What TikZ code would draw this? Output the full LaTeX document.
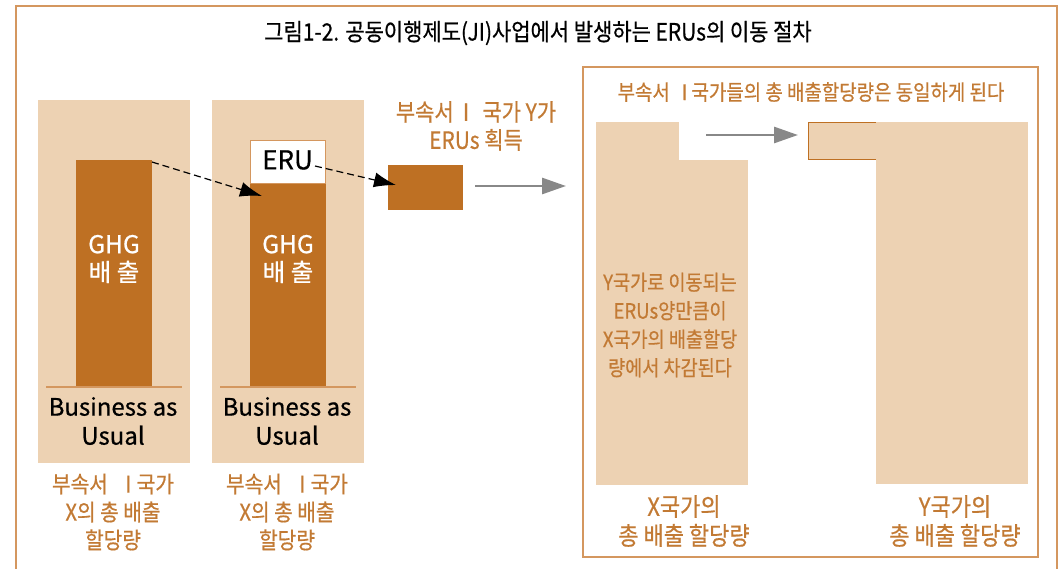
\documentclass[tikz,border=0pt]{standalone}
\usepackage{fontspec}
\setmainfont{Noto Sans CJK KR}[FakeStretch=0.88, FakeBold=0.6]
\newfontfamily\latinf{Noto Sans CJK KR}[FakeBold=0.6]
\usetikzlibrary{arrows.meta}
\definecolor{tanc}{HTML}{EDD2B3}
\definecolor{rustc}{HTML}{BE7023}
\definecolor{ortext}{HTML}{C27A34}
\definecolor{framec}{HTML}{D4975F}
\definecolor{grayarr}{HTML}{888888}
\begin{document}
\begin{tikzpicture}[x=1pt,y=-1pt,
  blk/.style={inner sep=0pt, outer sep=0pt, anchor=north west},
  tanblk/.style={blk, fill=tanc},
  rustblk/.style={blk, fill=rustc},
  lbl/.style={text=ortext, font=\fontsize{23}{28}\selectfont, align=center, inner sep=0pt},
  bau/.style={text=black, font=\latinf\fontsize{24}{29}\selectfont, align=center, inner sep=0pt},
  ghg/.style={text=white, font=\latinf\fontsize{24.5}{28}\selectfont, align=center, inner sep=0pt},
  baseline/.style={draw=framec, line width=1.2pt},
  dasharrow/.style={black, dashed, dash pattern=on 7pt off 4pt, line width=1.2pt, -{Latex[length=22pt,width=15pt]}},
  grayarrow/.style={grayarr, line width=2.8pt, -{Triangle[length=24pt,width=16pt]}}
]
\useasboundingbox (0,0) rectangle (1063,568);
% outer frame
\draw[framec, line width=1.6pt] (16,575) -- (16,6) -- (1057,6) -- (1057,575);
% title
\node[inner sep=0pt, font=\fontsize{23.8}{26}\selectfont] (title) at (538,33) {그림1-2. 공동이행제도(JI)사업에서 발생하는 ERUs의 이동 절차};

% panel 1
\node[tanblk, minimum width=152pt, minimum height=363pt] (p1) at (38,100) {};
\node[rustblk, minimum width=76pt, minimum height=227pt] (bar1) at (76,160) {};
\draw[baseline] (46,387) -- (182,387);
\node[ghg] (ghg1) at (114,259) {GHG\\배 출};
\node[bau] (bau1) at (113,421) {Business as\\Usual};
\node[lbl] (l1) at (113,512) {부속서\kern0.45emⅠ\kern-0.08em국가\\X의 총 배출\\할당량};

% panel 2
\node[tanblk, minimum width=152pt, minimum height=363pt] (p2) at (212,100) {};
\node[rustblk, minimum width=76pt, minimum height=227pt] (bar2) at (250,160) {};
\draw[baseline] (220,387) -- (356,387);
\node[blk, fill=white, draw=framec, line width=1pt, minimum width=75pt, minimum height=43pt] (eru) at (250,140) {};
\node[inner sep=0pt, font=\latinf\fontsize{26}{28}\selectfont] (erutext) at (287.5,160) {ERU};
\node[ghg] (ghg2) at (288,259) {GHG\\배 출};
\node[bau] (bau2) at (287,421) {Business as\\Usual};
\node[lbl] (l2) at (287,512) {부속서\kern0.45emⅠ\kern-0.08em국가\\X의 총 배출\\할당량};

% Y gets ERUs
\node[lbl, font=\fontsize{23.8}{28}\selectfont] (ylbl) at (476,126) {부속서\kern0.08emⅠ\kern0.25em국가 Y가\\ERUs 획득};
\node[rustblk, minimum width=75pt, minimum height=45pt] (ybox) at (388,165) {};

% dashed arrows
\coordinate (d1s) at (152,162);
\coordinate (d1e) at (262,196);
\coordinate (d2s) at (315,166);
\coordinate (d2e) at (396,185);
\draw[dasharrow] (d1s) -- (d1e);
\draw[dasharrow] (d2s) -- (d2e);

% gray arrow 1
\coordinate (g1s) at (475,186);
\coordinate (g1e) at (566,186);
\draw[grayarrow] (g1s) -- (g1e);

% right panel
\node[blk, draw=framec, line width=1.2pt, minimum width=455pt, minimum height=490pt] (rp) at (583,67) {};
\node[inner sep=0pt, text=ortext, font=\fontsize{21.5}{24}\selectfont] (rptitle) at (811,92) {부속서\kern0.25emⅠ\kern-0.12em국가들의 총 배출할당량은 동일하게 된다};

% X allocation shape
\node[tanblk, minimum width=83pt, minimum height=38pt] (xtop) at (596,122) {};
\node[tanblk, minimum width=152pt, minimum height=325pt] (xmain) at (596,159.5) {};
\node[inner sep=0pt, text=ortext, font=\fontsize{21.1}{28.5}\selectfont, align=center] (xtext) at (670,325) {Y국가로 이동되는\\ERUs양만큼이\\X국가의 배출할당\\량에서 차감된다};

% gray arrow 2
\coordinate (g2s) at (706,135);
\coordinate (g2e) at (798,135);
\draw[grayarrow] (g2s) -- (g2e);

% Y allocation
\node[tanblk, draw=rustc, line width=0.8pt, minimum width=68pt, minimum height=37pt] (ysmall) at (808,122) {};
\node[tanblk, minimum width=152pt, minimum height=362pt] (ymain) at (876,122) {};

% bottom labels
\node[lbl, font=\fontsize{25}{29}\selectfont] (xl) at (684,521) {X국가의\\총 배출 할당량};
\node[lbl, font=\fontsize{25}{29}\selectfont] (yl) at (955,521) {Y국가의\\총 배출 할당량};
\end{tikzpicture}
\end{document}
